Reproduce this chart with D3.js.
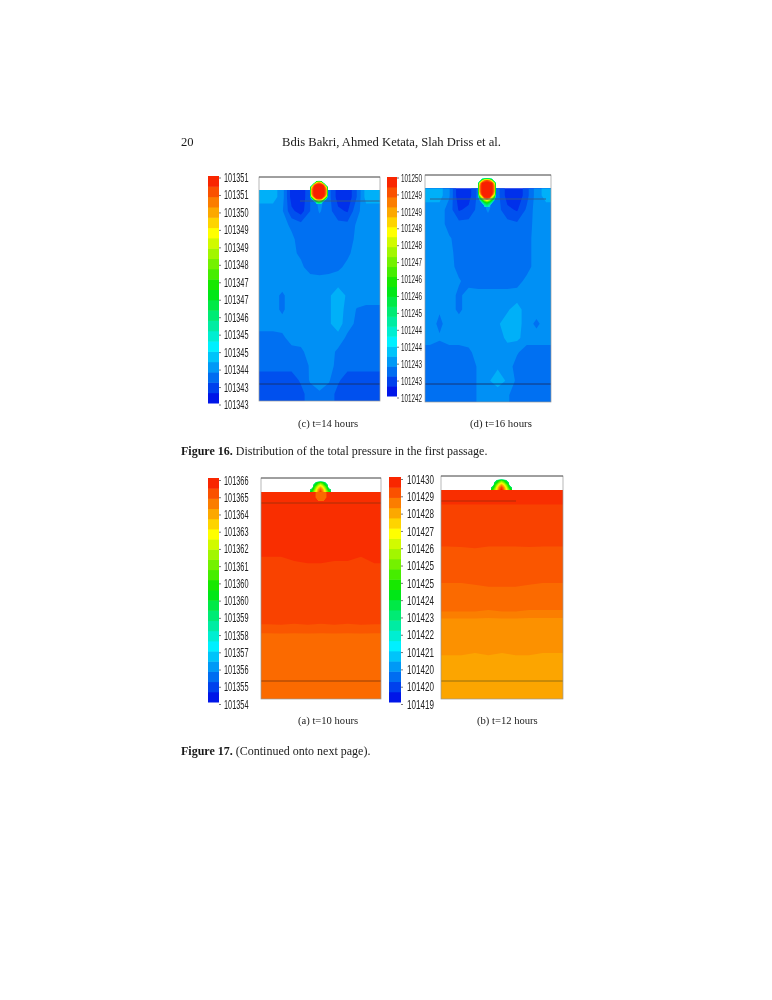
<!DOCTYPE html>
<html>
<head>
<meta charset="utf-8">
<script src="https://cdn.jsdelivr.net/npm/d3@7"></script>
<style>
  html, body { margin: 0; background: #fff; }
  svg { display: block; }
  .tick text { font-family: "Liberation Sans", sans-serif; fill: #222; }
  .tick line { stroke: #777; }
  .serif { font-family: "Liberation Serif", serif; fill: #1a1a1a; }
</style>
</head>
<body>
<div id="chart"></div>
<script>
// colour bar tick labels, bottom to top
const labelsC = ["101343","101343","101344","101345","101345","101346","101347","101347","101348","101349","101349","101350","101351","101351"];
const labelsD = ["101242","101243","101243","101244","101244","101245","101246","101246","101247","101248","101248","101249","101249","101250"];
const labelsA = ["101354","101355","101356","101357","101358","101359","101360","101360","101361","101362","101363","101364","101365","101366"];
const labelsB = ["101419","101420","101420","101421","101422","101423","101424","101425","101425","101426","101427","101428","101429","101430"];

// pressure above the bottom of each colour bar (Pa), top row first
const fieldC = [
  [1.45,1.45,1.2,0.4,0.3,0.8,1.2,0.9,0.4,0.3,0.8,1.45,1.45],
  [1.2,1.2,1.1,0.6,0.4,0.8,1.1,0.9,0.6,0.5,1.0,1.2,1.2],
  [1.2,1.2,1.2,1.0,0.9,0.9,0.9,0.9,0.9,0.9,1.1,1.2,1.2],
  [1.2,1.2,1.2,1.15,0.9,0.9,0.9,0.9,0.9,0.9,1.15,1.2,1.2],
  [1.2,1.2,1.2,1.15,1.0,0.9,0.9,0.9,0.9,1.0,1.2,1.2,1.2],
  [1.2,1.2,1.2,1.2,1.15,0.9,0.9,0.9,1.0,1.15,1.2,1.2,1.2],
  [1.25,1.25,1.25,1.25,1.25,1.25,1.2,1.25,1.25,1.25,1.25,1.25,1.25],
  [1.2,1.2,1.0,1.25,1.25,1.3,1.3,1.3,1.45,1.3,1.2,1.2,1.2],
  [1.2,1.2,1.0,1.25,1.25,1.3,1.3,1.3,1.45,1.25,1.05,1.0,1.0],
  [1.2,1.2,1.2,1.25,1.25,1.3,1.3,1.3,1.45,1.2,1.0,1.0,1.0],
  [0.95,0.95,1.0,1.2,1.2,1.3,1.3,1.3,1.25,1.0,0.95,0.95,0.95],
  [0.95,0.95,0.95,0.95,1.0,1.2,1.25,1.2,1.0,0.95,0.95,0.95,0.95],
  [0.9,0.9,0.9,0.9,0.9,1.1,1.3,1.2,0.95,0.9,0.9,0.9,0.9],
  [0.65,0.65,0.65,0.65,0.85,1.1,1.3,1.1,0.85,0.65,0.65,0.65,0.65],
  [0.65,0.65,0.65,0.65,0.7,0.95,1.0,0.95,0.7,0.65,0.65,0.65,0.65]
];
const fieldD = [
  [1.45,1.45,1.1,0.3,0.4,0.9,1.3,0.9,0.4,0.3,0.7,1.2,1.45],
  [1.2,1.2,0.95,0.5,0.6,0.9,1.1,0.9,0.6,0.5,0.85,1.2,1.2],
  [1.2,1.2,0.95,0.9,0.9,0.9,0.95,0.9,0.9,0.85,0.9,1.2,1.2],
  [1.2,1.2,1.1,0.95,0.9,0.9,0.9,0.9,0.9,0.9,0.95,1.2,1.2],
  [1.2,1.2,1.15,0.95,0.9,0.9,0.9,0.9,0.9,0.9,0.95,1.2,1.2],
  [1.2,1.2,1.2,0.95,0.9,0.9,0.9,0.9,0.9,0.9,0.95,1.2,1.2],
  [1.2,1.2,1.2,1.1,0.95,0.9,0.9,0.9,0.9,0.95,1.15,1.2,1.2],
  [1.2,1.2,1.2,1.0,1.2,1.2,1.2,1.2,1.2,1.2,1.2,1.2,1.2],
  [1.2,1.1,1.2,1.0,1.2,1.2,1.2,1.2,1.3,1.45,1.2,1.2,1.2],
  [1.2,1.0,1.2,1.2,1.2,1.2,1.2,1.3,1.45,1.45,1.2,1.0,1.2],
  [1.2,1.1,1.2,1.2,1.2,1.2,1.2,1.2,1.4,1.4,1.2,1.2,1.2],
  [0.93,0.93,0.93,0.93,1.0,1.2,1.2,1.2,1.2,1.1,0.93,0.93,0.93],
  [0.93,0.93,0.93,0.93,0.93,1.1,1.3,1.3,1.2,0.95,0.93,0.93,0.93],
  [0.93,0.93,0.93,0.93,0.93,1.1,1.3,1.45,1.3,1.0,0.93,0.93,0.93],
  [0.93,0.93,0.93,0.93,0.93,1.1,1.2,1.2,1.1,0.93,0.93,0.93,0.93]
];
const fieldA = [
  [11.6,11.6,11.6,11.6,11.6,11.6,11.6,11.6,11.6],
  [11.6,11.6,11.6,11.6,11.6,11.6,11.6,11.6,11.6],
  [11.6,11.6,11.6,11.6,11.6,11.6,11.6,11.6,11.6],
  [11.6,11.6,11.6,11.6,11.6,11.6,11.6,11.6,11.6],
  [11.55,11.55,11.6,11.6,11.6,11.6,11.6,11.55,11.6],
  [11.3,11.3,11.4,11.45,11.45,11.4,11.4,11.3,11.45],
  [11.3,11.3,11.3,11.3,11.3,11.3,11.3,11.3,11.3],
  [11.3,11.3,11.3,11.3,11.3,11.3,11.3,11.3,11.3],
  [11.3,11.3,11.3,11.3,11.3,11.3,11.3,11.3,11.3],
  [11.28,11.3,11.27,11.3,11.27,11.3,11.27,11.3,11.28],
  [10.9,10.9,10.9,10.9,10.9,10.9,10.9,10.9,10.9],
  [10.9,10.9,10.9,10.9,10.9,10.9,10.9,10.9,10.9],
  [10.9,10.9,10.9,10.9,10.9,10.9,10.9,10.9,10.9],
  [10.9,10.9,10.9,10.9,10.9,10.9,10.9,10.9,10.9],
  [10.9,10.9,10.9,10.9,10.9,10.9,10.9,10.9,10.9]
];
const fieldB = [
  [10.65,10.65,10.65,10.65,10.65,10.65,10.65,10.65,10.65],
  [10.45,10.45,10.45,10.45,10.45,10.45,10.45,10.45,10.45],
  [10.45,10.45,10.45,10.45,10.45,10.45,10.45,10.45,10.45],
  [10.45,10.4,10.45,10.45,10.45,10.45,10.4,10.45,10.45],
  [10.2,10.25,10.25,10.2,10.2,10.2,10.25,10.2,10.2],
  [10.2,10.2,10.2,10.2,10.2,10.2,10.2,10.2,10.2],
  [10.1,10.1,10.12,10.15,10.15,10.15,10.12,10.1,10.1],
  [10.0,10.0,10.0,10.0,10.0,10.0,10.0,10.0,10.0],
  [9.95,9.95,9.95,9.9,9.95,9.95,9.9,9.9,9.9],
  [9.5,9.5,9.5,9.5,9.5,9.5,9.5,9.5,9.5],
  [9.5,9.5,9.5,9.5,9.5,9.5,9.5,9.5,9.5],
  [9.45,9.45,9.42,9.45,9.42,9.45,9.45,9.42,9.42],
  [9.3,9.3,9.3,9.3,9.3,9.3,9.3,9.3,9.3],
  [9.3,9.3,9.3,9.3,9.3,9.3,9.3,9.3,9.3],
  [9.3,9.3,9.3,9.3,9.3,9.3,9.3,9.3,9.3]
];

// the hot spot at the top of the passage, on finer local grids
const spotC = [
  [0,0,0,0,0,0,0,0,0],
  [0,0,0,6,7,6,0,0,0],
  [0,0,7,8,8,8,7,0,0],
  [0,6,8,8,8,8,8,6,0],
  [0,7,8,8,8,8,8,7,0],
  [0,7,8,8,8,8,8,7,0],
  [0,7,8,8,8,8,8,7,0],
  [0,6,8,8,8,8,8,6,0],
  [0,3,6,8,8,8,6,3,0],
  [0,0,3,5,6,5,3,0,0],
  [0,0,0,2.5,3,2.5,0,0,0]
];
const spotD = [
  [0,0,0,0,0,0,0,0,0],
  [0,0,5,7,7.5,7,5,0,0],
  [0,6,8,8,8,8,8,6,0],
  [0,7,8,8,8,8,8,7,0],
  [0,7,8,8,8,8,8,7,0],
  [0,7,8,8,8,8,8,7,0],
  [0,6,8,8,8,8,8,6,0],
  [0,4,6,8,8,8,6,4,0],
  [0,2.5,4,5.5,6.5,5.5,4,2.5,0],
  [0,0,2.5,3.5,4,3.5,2.5,0,0],
  [0,0,0,2.5,3,2.5,0,0,0]
];
const domeA = [
  [0,0,0,0,0,0,0,0,0],
  [0,0,5,6,6.5,6,5,0,0],
  [0,5,6,7.5,8.5,7.5,6,5,0],
  [0,6,7.5,9,10,9,7.5,6,0],
  [5,6.5,8.5,10,11,10,8.5,6.5,5],
  [6,7.5,9,10.5,11.5,10.5,9,7.5,6],
  [6,7.5,9,10.5,11.5,10.5,9,7.5,6],
  [6,7.5,9,10.5,11.5,10.5,9,7.5,6]
];
const domeB = [
  [0,0,0,0,0,0,0,0,0],
  [0,0,4.5,5.5,6,5.5,4.5,0,0],
  [0,4.5,5.5,7,8,7,5.5,4.5,0],
  [0,5.5,7,8.5,9.5,8.5,7,5.5,0],
  [4.5,6,8,9.5,10.5,9.5,8,6,4.5],
  [5.5,7,8.5,10,11,10,8.5,7,5.5],
  [5.5,7,8.5,10,11,10,8.5,7,5.5],
  [5.5,7,8.5,10,11,10,8.5,7,5.5]
];
const glowA = [
  [0,10.9,10.9,10.9,10.9,10.9,0],
  [0,10.9,10.9,10.9,10.9,10.9,0],
  [0,0,10.9,10.9,10.9,0,0],
  [0,0,0,0,0,0,0]
];

const bandCount = 22; // steps in the colour bar

const width = 772, height = 1000;

const svg = d3.select("#chart").append("svg")
    .attr("width", width)
    .attr("height", height);

const rainbow = d3.scaleLinear()
    .domain([0, 0.25, 0.5, 0.75, 1])
    .range(["#0000e6", "#00f0ff", "#00e600", "#ffff00", "#f81000"]);

const panels = [
  { id: "c", labels: labelsC, field: fieldC, span: 8, levels: 30,
    bar: { x: 208, w: 11, y0: 176, y1: 403 }, ticks: { y0: 404.5, y1: 177.5 },
    text: { size: 12.5, len: 24.5, pad: 3 },
    box: { x: 259, w: 121, top: 177, fluid: 190, bottom: 401 },
    spot: { data: spotC, x: 308, w: 22, y: 179, h: 25, floor: 2 }, spotOver: true,
    lines: [[300, 380, 201, "#335a86"], [259, 380, 384, "#17306a"]] },
  { id: "d", labels: labelsD, field: fieldD, span: 8, levels: 30,
    bar: { x: 387, w: 10, y0: 177, y1: 396 }, ticks: { y0: 397.5, y1: 177.5 },
    text: { size: 11.5, len: 21, pad: 2 },
    box: { x: 425, w: 126, top: 175, fluid: 188.5, bottom: 402 },
    spot: { data: spotD, x: 476, w: 22, y: 176, h: 31, floor: 2 }, spotOver: true,
    lines: [[430, 546, 199, "#335a86"], [425, 551, 384, "#17306a"]] },
  { id: "a", labels: labelsA, field: fieldA, span: 12, levels: 48,
    bar: { x: 208, w: 11, y0: 478, y1: 702 }, ticks: { y0: 704, y1: 480 },
    text: { size: 12.5, len: 24.5, pad: 3 },
    box: { x: 261, w: 120, top: 478, fluid: 492, bottom: 699 },
    spot: { data: domeA, x: 310.5, w: 20, y: 479, h: 18, floor: 4 }, spotOver: false,
    glow: { data: glowA, x: 312, w: 18, y: 492, h: 14, floor: 10.5 },
    lines: [[261, 381, 503, "#a03008"], [261, 381, 681, "#8a3a08"]] },
  { id: "b", labels: labelsB, field: fieldB, span: 11, levels: 48,
    bar: { x: 389, w: 12, y0: 477, y1: 702 }, ticks: { y0: 704, y1: 479 },
    text: { size: 13, len: 27, pad: 4 },
    box: { x: 441, w: 122, top: 476, fluid: 490, bottom: 699 },
    spot: { data: domeB, x: 491, w: 21, y: 477, h: 18, floor: 3.5 }, spotOver: false,
    lines: [[441, 516, 501, "#a82a08"], [441, 563, 681, "#8a6a10"]] }
];

// contour a grid of values and fit it to a pixel rectangle
function drawGrid(g, grid, span, levels, rect, floor) {
  const rows = grid.length, cols = grid[0].length;
  const thresholds = d3.range(levels)
      .map(i => span * i / levels)
      .filter(v => v >= floor);
  const contours = d3.contours()
      .size([cols, rows])
      .smooth(true)
      .thresholds(thresholds)(grid.flat());
  const fit = d3.geoTransform({
    point(x, y) {
      this.stream.point(rect.x + x / cols * rect.w, rect.y + y / rows * rect.h);
    }
  });
  g.selectAll(null)
      .data(contours)
      .join("path")
      .attr("d", d3.geoPath(fit))
      .attr("fill", d => rainbow(Math.min(1, (d.value + span / levels / 2) / span)));
}

// whole field: repeat the edges one cell out so the corners stay filled, then clip
function drawField(g, grid, span, levels, rect, id) {
  const rows = grid.length, cols = grid[0].length;
  const wide = [grid[0], ...grid, grid[rows - 1]].map(r => [r[0], ...r, r[cols - 1]]);
  svg.append("clipPath").attr("id", "clip-" + id).append("rect")
      .attr("x", rect.x).attr("y", rect.y)
      .attr("width", rect.w).attr("height", rect.h);
  const cw = rect.w / cols, ch = rect.h / rows;
  drawGrid(g.append("g").attr("clip-path", `url(#clip-${id})`), wide, span, levels,
      { x: rect.x - cw, w: rect.w + 2 * cw, y: rect.y - ch, h: rect.h + 2 * ch }, 0);
}

panels.forEach(p => {
  const fig = svg.append("g").style("filter", "blur(0.5px)");

  // colour bar
  const bands = d3.range(bandCount);
  const barY = d3.scaleBand().domain(bands).range([p.bar.y1, p.bar.y0]);
  fig.append("g").selectAll("rect")
      .data(bands)
      .join("rect")
      .attr("x", p.bar.x)
      .attr("y", d => barY(d))
      .attr("width", p.bar.w)
      .attr("height", barY.bandwidth() + 0.5)
      .attr("fill", d => rainbow((d + 0.5) / bandCount));

  const tickY = d3.scaleLinear()
      .domain([0, p.labels.length - 1])
      .range([p.ticks.y0, p.ticks.y1]);
  const axis = d3.axisRight(tickY)
      .tickValues(d3.range(p.labels.length))
      .tickFormat(i => p.labels[i])
      .tickSize(2)
      .tickPadding(p.text.pad);
  fig.append("g")
      .attr("transform", `translate(${p.bar.x + p.bar.w},0)`)
      .call(axis)
      .call(g => g.select(".domain").remove())
      .call(g => g.selectAll(".tick text")
          .attr("font-size", p.text.size)
          .attr("textLength", p.text.len)
          .attr("lengthAdjust", "spacingAndGlyphs"));

  // passage
  const b = p.box;
  const rect = { x: b.x, w: b.w, y: b.fluid, h: b.bottom - b.fluid };
  const field = fig.append("g").style("filter", "blur(0.7px)");
  if (!p.spotOver) drawGrid(field, p.spot.data, p.span, p.levels, p.spot, p.spot.floor);
  drawField(field, p.field, p.span, p.levels, rect, p.id);
  if (p.spotOver) drawGrid(field, p.spot.data, p.span, p.levels, p.spot, p.spot.floor);
  if (p.glow) drawGrid(field, p.glow.data, p.span, p.levels, p.glow, p.glow.floor);

  p.lines.forEach(l => {
    field.append("line")
        .attr("x1", l[0]).attr("x2", l[1])
        .attr("y1", l[2]).attr("y2", l[2])
        .attr("stroke", l[3])
        .attr("stroke-width", 0.9);
  });

  fig.append("rect")
      .attr("x", b.x).attr("y", b.top)
      .attr("width", b.w).attr("height", b.bottom - b.top)
      .attr("fill", "none")
      .attr("stroke", "#999")
      .attr("stroke-width", 0.7);
  fig.append("line")
      .attr("x1", b.x).attr("x2", b.x + b.w)
      .attr("y1", b.top).attr("y2", b.top)
      .attr("stroke", "#444")
      .attr("stroke-width", 0.8);
});

// page text
const pageText = [
  { t: "20", x: 181, y: 146, size: 12.6 },
  { t: "Bdis Bakri, Ahmed Ketata, Slah Driss et al.", x: 282, y: 146, size: 12.6 },
  { t: "(c) t=14 hours", x: 298, y: 427, size: 10.6 },
  { t: "(d) t=16 hours", x: 470, y: 427, size: 10.8 },
  { t: "(a) t=10 hours", x: 298, y: 724, size: 10.6 },
  { t: "(b) t=12 hours", x: 477, y: 724, size: 10.6 }
];
const text = svg.append("g").attr("class", "serif").style("filter", "blur(0.3px)");
text.selectAll("text")
    .data(pageText)
    .join("text")
    .attr("x", d => d.x)
    .attr("y", d => d.y)
    .attr("font-size", d => d.size)
    .text(d => d.t);

const captions = [
  { fig: "Figure 16.", rest: " Distribution of the total pressure in the first passage.", y: 455 },
  { fig: "Figure 17.", rest: " (Continued onto next page).", y: 755 }
];
captions.forEach(c => {
  const line = text.append("text").attr("x", 181).attr("y", c.y).attr("font-size", 12);
  line.append("tspan").attr("font-weight", "bold").text(c.fig);
  line.append("tspan").text(c.rest);
});
</script>
</body>
</html>
